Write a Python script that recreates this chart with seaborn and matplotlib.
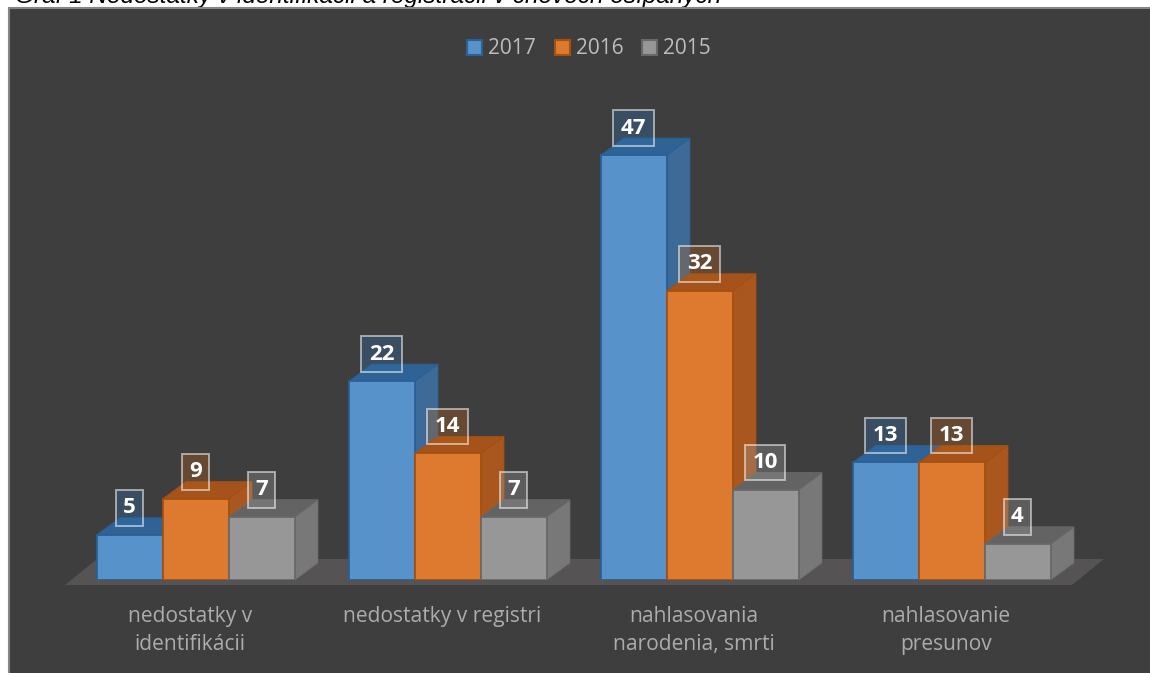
#!/usr/bin/env python
"""Dark 3D-look grouped bars: findings per category and year."""

import matplotlib

matplotlib.use("Agg")
import matplotlib.pyplot as plt
import pandas as pd
import seaborn as sns
from matplotlib.patches import Polygon, Rectangle
from matplotlib.transforms import ScaledTranslation

CATEGORIES = [
    "nedostatky v\nidentifikácii",
    "nedostatky v registri",
    "nahlasovania\nnarodenia, smrti",
    "nahlasovanie\npresunov",
]
YEARS = ["2017", "2016", "2015"]
VALUES_2017 = [5, 22, 47, 13]
VALUES_2016 = [9, 14, 32, 13]
VALUES_2015 = [7, 7, 10, 4]
TITLE = "Graf 1 Nedostatky v identifikácii a registrácii v chovoch ošípaných"

W, H = 1150, 673
PANEL = "#3E3E3E"
FRONT = {"2017": "#5792CB", "2016": "#DE7A30", "2015": "#979797"}
EDGE = {"2017": "#2A6096", "2016": "#A4500F", "2015": "#686868"}
SIDE = {"2017": "#3D6A96", "2016": "#A9571F", "2015": "#787878"}
TOP = {"2017": "#2F6295", "2016": "#A5531A", "2015": "#636363"}
FILL = {"2017": "#2F6FAB", "2016": "#B5611F", "2015": "#9A9A9A"}

# pixel scale of the reference
BASE_Y = 580
PX_PER_CAT = 252
PX_PER_UNIT = 9.04
CENTER0 = 196
DEPTH_X = 23 / PX_PER_CAT
DEPTH_Y = 17 / PX_PER_UNIT


def to_x(px):
    return (px - CENTER0) / PX_PER_CAT


def to_y(px):
    return (BASE_Y - px) / PX_PER_UNIT


def draw_faces(ax, bar, year, z):
    x0, x1 = bar.get_x(), bar.get_x() + bar.get_width()
    h = bar.get_height()
    side = [(x1, 0), (x1 + DEPTH_X, DEPTH_Y), (x1 + DEPTH_X, h + DEPTH_Y), (x1, h)]
    top = [(x0, h), (x1, h), (x1 + DEPTH_X, h + DEPTH_Y), (x0 + DEPTH_X, h + DEPTH_Y)]
    for pts, color in [(side, SIDE[year]), (top, TOP[year])]:
        ax.add_patch(
            Polygon(pts, closed=True, facecolor=color, edgecolor=EDGE[year],
                    linewidth=0.6, zorder=z, clip_on=False)
        )


def main():
    df = pd.DataFrame({
        "category": CATEGORIES * 3,
        "year": [y for y in YEARS for _ in CATEGORIES],
        "value": VALUES_2017 + VALUES_2016 + VALUES_2015,
    })

    sns.set_theme(style="white")
    plt.rcParams["font.family"] = ["Open Sans", "DejaVu Sans"]

    fig = plt.figure(figsize=(W / 100, H / 100), dpi=100, facecolor="white")
    fig.text(15 / W, 1 - 3 / H, TITLE, fontsize=17.6, style="italic", color="black",
             family="Liberation Sans", ha="left", va="baseline", zorder=-3)
    # panel runs off the right and bottom edges, as in the screenshot
    fig.patches.append(
        Rectangle((9 / W, -0.01), 1, 1.01 - 8 / H, transform=fig.transFigure,
                  facecolor=PANEL, edgecolor="#858585", linewidth=1.5, zorder=-2, figure=fig)
    )

    ax = fig.add_axes([0, (H - BASE_Y) / H, 1, BASE_Y / H])
    ax.patch.set_alpha(0)
    sns.barplot(
        data=df, x="category", y="value", hue="year", hue_order=YEARS, order=CATEGORIES,
        palette=FRONT, saturation=1, width=198 / PX_PER_CAT, gap=0, ax=ax,
    )
    ax.set_xlim(to_x(0), to_x(W))
    ax.set_ylim(0, to_y(0))

    # floor under the bars
    ax.add_patch(
        Polygon(
            [(to_x(65), to_y(585)), (to_x(1072), to_y(585)),
             (to_x(1104), to_y(559)), (to_x(97), to_y(559))],
            closed=True, facecolor="#555353", edgecolor="none", zorder=0.5, clip_on=False,
        )
    )

    for i, (year, container) in enumerate(zip(YEARS, ax.containers)):
        z = 2 + i * 2
        for bar in container:
            draw_faces(ax, bar, year, z)
            bar.set_zorder(z + 1)
            bar.set_edgecolor(EDGE[year])
            bar.set_linewidth(1.3)
            ax.annotate(
                f"{bar.get_height():.0f}",
                xy=(bar.get_x() + bar.get_width() / 2, bar.get_height()),
                xytext=(-0.4, 19.4), textcoords="offset points",
                ha="center", va="center", fontsize=16, fontweight="bold", color="white",
                zorder=20, annotation_clip=False,
                bbox=dict(boxstyle="square,pad=0.33", facecolor=FILL[year] + "55",
                          edgecolor="#FFFFFF88", linewidth=1.4),
            )

    handles, labels = ax.get_legend_handles_labels()
    for handle, year in zip(handles, YEARS):
        handle.set_edgecolor(EDGE[year])
        handle.set_linewidth(1.5)
    ax.legend(
        handles, labels, loc="center", bbox_to_anchor=(589 / W, 1 - 49 / H),
        bbox_transform=fig.transFigure, ncols=3, frameon=False, fontsize=15,
        labelcolor="#BDBDBD", handlelength=0.72, handleheight=0.72, handletextpad=0.29,
        columnspacing=0.89, borderpad=0,
    )

    ax.set_xlabel("")
    ax.set_ylabel("")
    ax.set_yticks([])
    sns.despine(ax=ax, left=True, bottom=True)
    ax.tick_params(axis="x", length=0, pad=19, labelsize=15.1, labelcolor="#ACACAC")
    shift = ScaledTranslation(-0.06, 0, fig.dpi_scale_trans)
    for label in ax.get_xticklabels():
        label.set_transform(label.get_transform() + shift)
        label.set_linespacing(1.42)
        label.set_verticalalignment("top")

    fig.savefig("out.png", dpi=100)
    plt.close(fig)


if __name__ == "__main__":
    main()
